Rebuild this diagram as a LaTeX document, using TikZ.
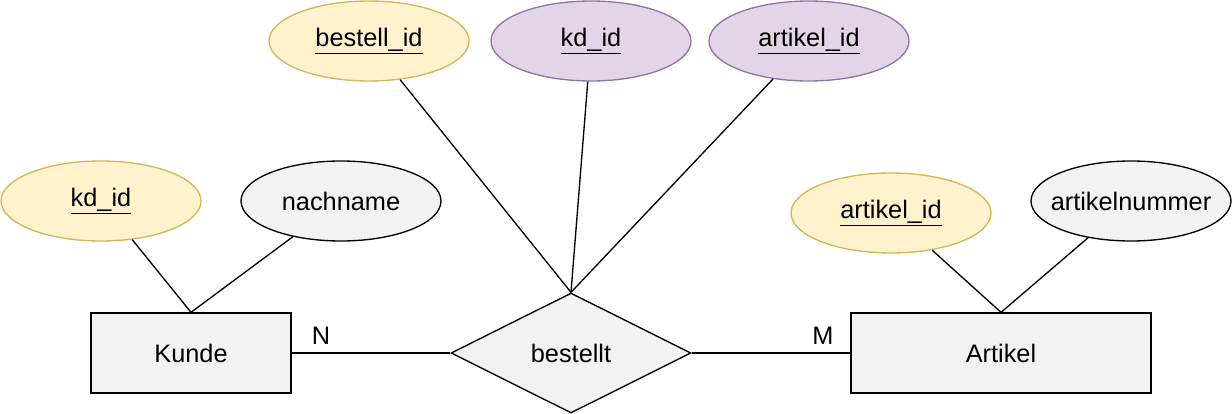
\documentclass[tikz,border=0pt]{standalone}
\usepackage{fontspec}
\setmainfont{Liberation Sans}
\usetikzlibrary{shapes.geometric}
\definecolor{yfill}{HTML}{FFF2CC}
\definecolor{ystroke}{HTML}{D6B656}
\definecolor{pfill}{HTML}{E1D5E7}
\definecolor{pstroke}{HTML}{9673A6}
\definecolor{gfill}{HTML}{F2F2F2}
\begin{document}
\begin{tikzpicture}[x=0.75pt,y=-0.75pt,
  every node/.style={font=\fontsize{19}{23}\selectfont, inner sep=0pt},
  attr/.style={ellipse, draw, line width=1pt, minimum width=150pt, minimum height=60pt},
  ykey/.style={attr, fill=yfill, draw=ystroke},
  pkey/.style={attr, fill=pfill, draw=pstroke},
  gattr/.style={attr, fill=gfill, draw=black},
  entity/.style={rectangle, draw, line width=1pt, fill=gfill, minimum height=60pt},
  rel/.style={diamond, draw, line width=1pt, fill=gfill, minimum width=180pt, minimum height=90pt},
  conn/.style={line width=1pt}]
\useasboundingbox (0,0) rectangle (1232,414);
\node[ykey] (bid) at (369,41) {\makebox[0pt]{\underline{bestell\_id}}};
\node[pkey] (pkd) at (591,41) {\makebox[0pt]{\underline{kd\_id}}};
\node[pkey] (paid) at (809,41) {\makebox[0pt]{\underline{artikel\_id}}};
\node[ykey] (kdid) at (101,201) {\makebox[0pt]{\underline{kd\_id}}};
\node[gattr] (nach) at (341,201) {\makebox[0pt]{nachname}};
\node[ykey] (aid) at (891,213) {\makebox[0pt]{\underline{artikel\_id}}};
\node[gattr] (anr) at (1131,201) {\makebox[0pt]{artikelnummer}};
\node[entity, minimum width=150pt] (kunde) at (191,353) {Kunde};
\node[entity, minimum width=225pt] (artikel) at (1001,353) {Artikel};
\node[rel] (best) at (571,353) {bestellt};
\node (n) at (321,336) {N};
\node (m) at (823,336) {M};
\draw[conn] (kdid) -- (kunde.north);
\draw[conn] (nach) -- (kunde.north);
\draw[conn] (aid) -- (artikel.north);
\draw[conn] (anr) -- (artikel.north);
\draw[conn] (bid) -- (best.north);
\draw[conn] (pkd) -- (best.north);
\draw[conn] (paid) -- (best.north);
\draw[conn] (kunde.east) -- (best.west);
\draw[conn] (best.east) -- (artikel.west);
\end{tikzpicture}
\end{document}
